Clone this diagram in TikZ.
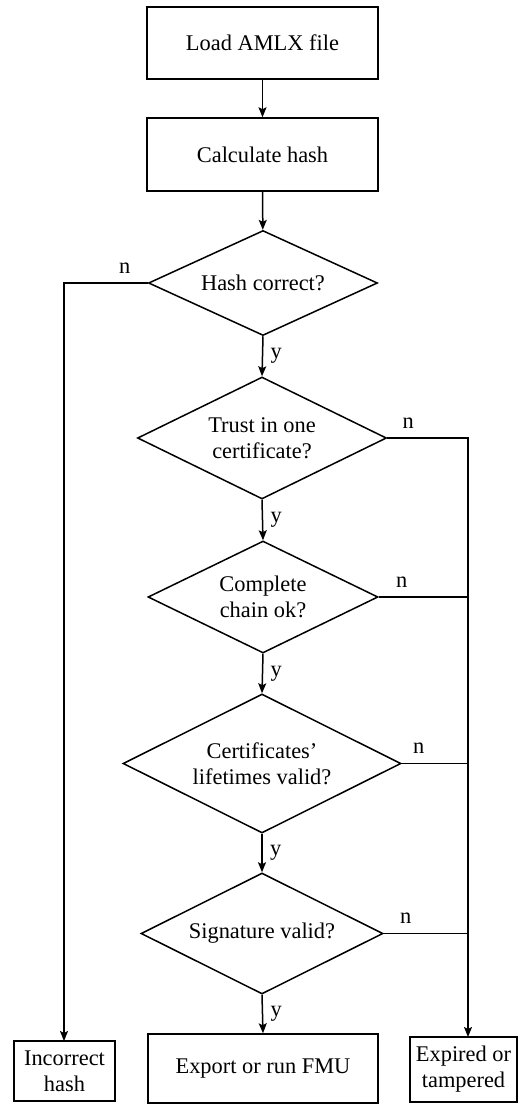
\documentclass[tikz,border=0pt]{standalone}
\usepackage{fontspec}
\setmainfont{Liberation Serif}
\usetikzlibrary{shapes.geometric,arrows.meta,calc}
\tikzset{
  box/.style={draw,line width=1.5pt,rectangle,inner sep=0pt,align=center},
  decision/.style={draw,line width=1.5pt,diamond,inner sep=0pt,align=center},
  flow/.style={line width=1.5pt,-{Stealth[length=10pt,width=8pt,inset=2pt]}},
  plain/.style={line width=1.5pt},
  lbl/.style={inner sep=0pt,anchor=base}
}
\begin{document}
\begin{tikzpicture}[x=1pt,y=-1pt,font=\fontsize{22.4}{26}\selectfont]
\useasboundingbox (0,0) rectangle (522,1104);
\node[box,minimum width=231pt,minimum height=72pt] (load) at (262.5,43) {Load AMLX file};
\node[box,minimum width=231pt,minimum height=73pt] (calc) at (262.5,154.5) {Calculate hash};
\node[decision,aspect=2.18,minimum width=229pt,minimum height=105pt] (hash) at (263,283) {Hash correct?};
\node[decision,aspect=2.04,minimum width=249pt,minimum height=122pt] (trust) at (262,438) {Trust in one\\certificate?};
\node[decision,aspect=2.05,minimum width=230pt,minimum height=112pt] (chain) at (263,597) {Complete\\chain ok?};
\node[decision,aspect=2,minimum width=278pt,minimum height=139pt] (life) at (262,763.5) {Certificates'\\lifetimes valid?};
\node[decision,aspect=2,minimum width=242pt,minimum height=121pt] (sig) at (262,933.5) {Signature valid?};
\node[box,minimum width=230pt,minimum height=69pt] (export) at (263,1068.5) {Export or run FMU};
\node[box,minimum width=101pt,minimum height=60pt] (incorrect) at (64.5,1071) {Incorrect\\hash};
\node[box,minimum width=107pt,minimum height=65pt] (expired) at (463.5,1069.5) {Expired or\\tampered};
\coordinate (rail) at (468,1037);
\coordinate (lrail) at (64,1041);

\draw[flow] (load) -- (calc);
\draw[flow] (calc) -- (hash);
\draw[flow] (hash.south) -- node[right=4pt] {y} (trust.north);
\draw[flow] (trust.south) -- node[right=4pt] {y} (chain.north);
\draw[flow] (chain.south) -- node[right=4pt] {y} (life.north);
\draw[flow] (life.south) -- node[right=4pt] {y} (sig.north);
\draw[flow] (sig.south) -- node[right=4pt] {y} (export.north);

\draw[flow] (hash.west) -| (lrail);
\draw[flow] (trust.east) -| (rail);
\draw[plain] (chain.east) -- (chain.east -| rail);
\draw[plain] (life.east) -- (life.east -| rail);
\draw[plain] (sig.east) -- (sig.east -| rail);

\node[lbl] (nh) at ($(hash.west)+(-23,-10)$) {n};
\node[lbl] (nt) at ($(trust.east)+(21,-10)$) {n};
\node[lbl] (nc) at ($(chain.east)+(23,-10)$) {n};
\node[lbl] (nl) at ($(life.east)+(17,-10)$) {n};
\node[lbl] (ns) at ($(sig.east)+(22,-10)$) {n};
\end{tikzpicture}
\end{document}
